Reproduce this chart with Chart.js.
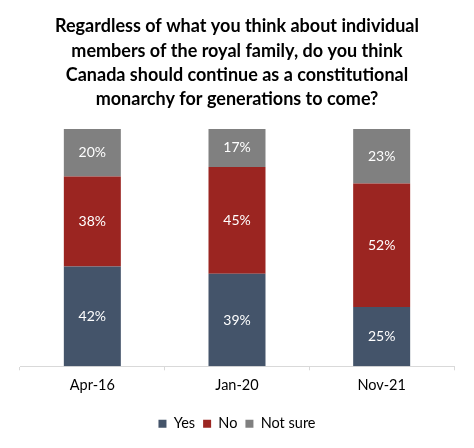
<!DOCTYPE html>
<html>
<head>
<meta charset="utf-8">
<script src="https://cdn.jsdelivr.net/npm/chart.js@4/dist/chart.umd.min.js"></script>
<style>
  html, body { margin: 0; padding: 0; background: #ffffff; }
  #wrap { width: 474px; height: 448px; }
</style>
</head>
<body>
<div id="wrap"><canvas id="c" width="474" height="448"></canvas></div>
<script>
const categories = ["Apr-16", "Jan-20", "Nov-21"];
const yesValues = [42, 39, 25];
const noValues = [38, 45, 52];
const notSureValues = [20, 17, 23];
const seriesNames = ["Yes", "No", "Not sure"];
const titleLines = [
  "Regardless of what you think about individual",
  "members of the royal family, do you think",
  "Canada should continue as a constitutional",
  "monarchy for generations to come?"
];

const FONT = "Lato, 'Open Sans', 'Liberation Sans', sans-serif";

const valueLabels = {
  id: 'valueLabels',
  afterDatasetsDraw(chart) {
    const ctx = chart.ctx;
    const area = chart.chartArea;
    ctx.save();
    ctx.fillStyle = '#ffffff';
    ctx.font = '14px ' + FONT;
    ctx.textAlign = 'center';
    ctx.textBaseline = 'middle';
    chart.data.datasets.forEach((ds, di) => {
      const meta = chart.getDatasetMeta(di);
      meta.data.forEach((el, i) => {
        const top = Math.max(Math.min(el.y, el.base), area.top);
        const bottom = Math.min(Math.max(el.y, el.base), area.bottom);
        ctx.fillText(ds.data[i] + '%', el.x, (top + bottom) / 2);
      });
    });
    ctx.restore();
  }
};

new Chart(document.getElementById('c'), {
  type: 'bar',
  data: {
    labels: categories,
    datasets: [
      { label: seriesNames[0], data: yesValues, backgroundColor: '#44546A' },
      { label: seriesNames[1], data: noValues, backgroundColor: '#9B2521' },
      { label: seriesNames[2], data: notSureValues, backgroundColor: '#808080' }
    ]
  },
  options: {
    responsive: false,
    animation: false,
    devicePixelRatio: 1,
    barPercentage: 0.394,
    categoryPercentage: 1,
    layout: { padding: { left: 20, right: 20, top: 14, bottom: 7 } },
    scales: {
      x: {
        stacked: true,
        grid: { drawOnChartArea: false, drawTicks: true, tickLength: 4, color: '#D9D9D9', offset: true },
        border: { color: '#D9D9D9', width: 1 },
        ticks: { color: '#000000', font: { family: FONT, size: 14.5, lineHeight: 1.6 }, padding: 3 },
        afterFit(scale) { scale.height += 9; }
      },
      y: {
        stacked: true,
        display: false,
        min: 0,
        max: 100
      }
    },
    plugins: {
      title: {
        display: true,
        text: titleLines,
        color: '#000000',
        font: { family: FONT, size: 18, weight: 'bold', lineHeight: 1.36 },
        padding: { top: 0, bottom: 17 }
      },
      legend: {
        position: 'bottom',
        labels: {
          color: '#000000',
          font: { family: FONT, size: 14.5 },
          boxWidth: 8,
          boxHeight: 8,
          padding: 8
        }
      },
      tooltip: { enabled: false }
    }
  },
  plugins: [valueLabels]
});
</script>
</body>
</html>
